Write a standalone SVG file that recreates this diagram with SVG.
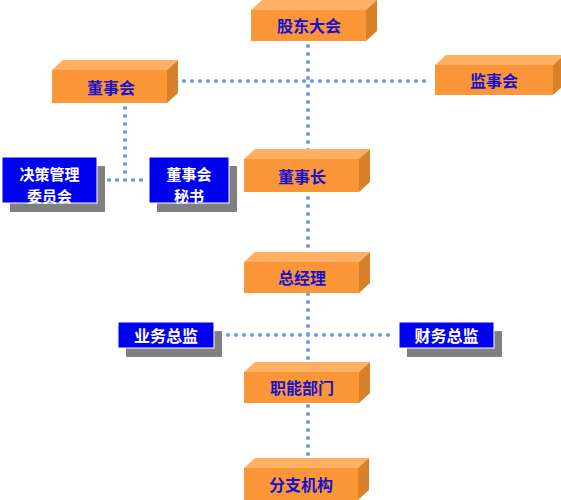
<svg xmlns="http://www.w3.org/2000/svg" width="561" height="500" viewBox="0 0 561 500">
<defs>
<style>
.front{fill:#fb9638}
.top{fill:#ffb062}
.side{fill:#d9802a}
.ot{font-family:"Noto Sans CJK SC","Liberation Sans",sans-serif;font-size:16px;font-weight:bold;fill:#1a12c8;text-anchor:middle;dominant-baseline:central}
.bt{font-family:"Noto Sans CJK SC","Liberation Sans",sans-serif;font-size:16px;font-weight:bold;fill:#ffffff;text-anchor:middle;dominant-baseline:central}
.bt2{font-size:15px}
.blue{fill:#0000f0;stroke:#ffffff;stroke-width:1}
.shadow{fill:#808080}
.dot{fill:none;stroke:#6f9ae6;stroke-width:4.2;stroke-linecap:round;stroke-dasharray:0 8}
</style>
</defs>
<rect width="561" height="500" fill="#ffffff"/>
<g id="connectors">
<line class="dot" x1="308" y1="46" x2="308" y2="466"/>
<line class="dot" x1="184" y1="81" x2="432" y2="81"/>
<line class="dot" x1="125" y1="108" x2="125" y2="180"/>
<line class="dot" x1="109" y1="180" x2="147" y2="180"/>
<line class="dot" x1="228" y1="335" x2="396" y2="335"/>
</g>
<g id="n_gudong">
<polygon class="top" points="251,10 262,0 377,0 366,10"/>
<polygon class="side" points="366,10 377,0 377,31 366,41"/>
<rect class="front" x="251" y="10" width="115" height="31"/>
<text class="ot" x="309" y="25">股东大会</text>
</g>
<g id="n_dongshihui">
<polygon class="top" points="52,70 63,60 178,60 167,70"/>
<polygon class="side" points="167,70 178,60 178,93 167,103"/>
<rect class="front" x="52" y="70" width="115" height="33"/>
<text class="ot" x="111" y="87">董事会</text>
</g>
<g id="n_jianshihui">
<polygon class="top" points="435,65 446,55 564,55 553,65"/>
<polygon class="side" points="553,65 564,55 564,85 553,95"/>
<rect class="front" x="435" y="65" width="118" height="30"/>
<text class="ot" x="494" y="80">监事会</text>
</g>
<g id="n_dongshizhang">
<polygon class="top" points="244,159 255,149 370,149 359,159"/>
<polygon class="side" points="359,159 370,149 370,182 359,192"/>
<rect class="front" x="244" y="159" width="115" height="33"/>
<text class="ot" x="302" y="176">董事长</text>
</g>
<g id="n_zongjingli">
<polygon class="top" points="244,262 255,252 370,252 359,262"/>
<polygon class="side" points="359,262 370,252 370,283 359,293"/>
<rect class="front" x="244" y="262" width="115" height="31"/>
<text class="ot" x="302" y="277">总经理</text>
</g>
<g id="n_zhineng">
<polygon class="top" points="244,372 255,362 370,362 359,372"/>
<polygon class="side" points="359,372 370,362 370,393 359,403"/>
<rect class="front" x="244" y="372" width="115" height="31"/>
<text class="ot" x="302" y="387">职能部门</text>
</g>
<g id="n_fenzhi">
<polygon class="top" points="244,468 255,458 369,458 358,468"/>
<polygon class="side" points="358,468 369,458 369,490 358,500"/>
<rect class="front" x="244" y="468" width="114" height="32"/>
<text class="ot" x="301" y="484">分支机构</text>
</g>
<g id="n_juece">
<rect class="shadow" x="10" y="166" width="95" height="46"/>
<rect class="blue" x="2" y="157" width="95" height="46"/>
<text class="bt bt2" x="49.5" y="173">决策管理</text>
<text class="bt bt2" x="49.5" y="195">委员会</text>
</g>
<g id="n_mishu">
<rect class="shadow" x="157" y="166" width="80" height="46"/>
<rect class="blue" x="149" y="157" width="80" height="46"/>
<text class="bt bt2" x="189" y="173">董事会</text>
<text class="bt bt2" x="189" y="195">秘书</text>
</g>
<g id="n_yewu">
<rect class="shadow" x="126" y="331" width="96" height="26"/>
<rect class="blue" x="118" y="322" width="96" height="26"/>
<text class="bt" x="166" y="335">业务总监</text>
</g>
<g id="n_caiwu">
<rect class="shadow" x="407" y="331" width="95" height="26"/>
<rect class="blue" x="399" y="322" width="95" height="26"/>
<text class="bt" x="446.5" y="335">财务总监</text>
</g>
</svg>
